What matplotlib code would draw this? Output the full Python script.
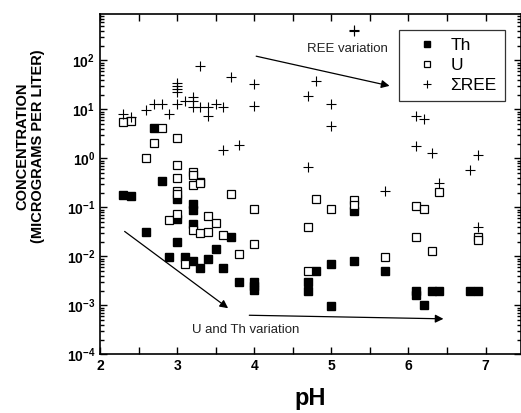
"""Th, U and total REE concentration versus pH (log scale)."""
import numpy as np
import matplotlib; matplotlib.use("Agg")
import matplotlib.pyplot as plt
from matplotlib.ticker import FixedLocator, LogLocator, FuncFormatter, NullFormatter

plt.rcParams["font.family"] = ["Liberation Sans", "DejaVu Sans"]
plt.rcParams["mathtext.fontset"] = "custom"
plt.rcParams["mathtext.rm"] = "Liberation Sans"
plt.rcParams["mathtext.bf"] = "Liberation Sans:bold"

# Th (filled squares)
th_ph = [2.3, 2.4, 2.6, 2.7, 2.8, 2.9, 3.0, 3.0, 3.0, 3.1, 3.2, 3.2, 3.2, 3.2, 3.3, 3.3,
         3.4, 3.5, 3.6, 3.7, 3.8, 4.0, 4.0, 4.0, 4.7, 4.7, 4.8, 5.0, 5.0, 5.3, 5.3, 5.7,
         6.1, 6.1, 6.2, 6.3, 6.4, 6.8, 6.9]
th_c = [0.18, 0.17, 0.031, 4.2, 0.35, 0.0099, 0.15, 0.057, 0.020, 0.0099, 0.12, 0.089,
        0.045, 0.0079, 0.33, 0.0059, 0.0087, 0.014, 0.0059, 0.025, 0.0030, 0.0030, 0.0025,
        0.0021, 0.0030, 0.0020, 0.005, 0.0069, 0.00098, 0.085, 0.0079, 0.005, 0.002,
        0.0016, 0.001, 0.002, 0.002, 0.002, 0.002]

# U (open squares)
u_ph = [2.3, 2.4, 2.6, 2.7, 2.8, 2.9, 3.0, 3.0, 3.0, 3.0, 3.0, 3.0, 3.1, 3.2, 3.2, 3.2,
        3.2, 3.3, 3.3, 3.4, 3.4, 3.5, 3.6, 3.7, 3.8, 4.0, 4.0, 4.7, 4.7, 4.8, 5.0, 5.3,
        5.3, 5.7, 6.1, 6.1, 6.2, 6.3, 6.4, 6.9, 6.9]
u_c = [5.5, 5.8, 1.0, 2.1, 4.2, 0.055, 2.6, 0.75, 0.39, 0.22, 0.19, 0.075, 0.0069, 0.53,
       0.45, 0.29, 0.035, 0.31, 0.030, 0.067, 0.031, 0.049, 0.028, 0.19, 0.011, 0.091,
       0.018, 0.04, 0.005, 0.15, 0.095, 0.14, 0.11, 0.0099, 0.106, 0.025, 0.095, 0.013,
       0.21, 0.025, 0.022]

# sum of REE (plus signs)
ree_ph = [2.3, 2.4, 2.6, 2.7, 2.8, 2.9, 3.0, 3.0, 3.0, 3.0, 3.0, 3.1, 3.2, 3.2, 3.2, 3.3,
          3.3, 3.4, 3.4, 3.5, 3.6, 3.6, 3.7, 3.8, 4.0, 4.0, 4.7, 4.7, 4.8, 5.0, 5.0, 5.3,
          5.3, 5.7, 6.1, 6.1, 6.2, 6.3, 6.4, 6.8, 6.9, 6.9]
ree_c = [8.0, 6.9, 9.6, 13, 13, 8.0, 34, 30, 26, 23, 13, 15, 18, 15, 11, 76, 11, 11, 7.3,
         13, 11, 1.5, 45, 1.9, 33, 11.6, 19, 0.67, 38, 13, 4.6, 400, 420, 0.22, 7.3, 1.8,
         6.3, 1.3, 0.31, 0.58, 1.17, 0.04]

fig = plt.figure(figsize=(5.21, 4.13), dpi=100)
ax = fig.add_axes([0.192, 0.142, 0.808, 0.823])

ax.plot(th_ph, th_c, ls="none", marker="s", ms=5.2, mfc="black", mec="black", label="Th")
ax.plot(u_ph, u_c, ls="none", marker="s", ms=5.2, mfc="white", mec="black", mew=0.9, label="U")
ax.plot(ree_ph, ree_c, ls="none", marker="+", ms=7, mec="black", mew=0.8, label="\u03a3REE")

ax.set_yscale("log")
ax.set_xlim(2, 7.46)
ax.set_ylim(1e-4, 10 ** 2.94)

ax.xaxis.set_major_locator(FixedLocator(np.arange(2, 7.01, 0.5)))
ax.xaxis.set_major_formatter(FuncFormatter(
    lambda v, p: f"{int(v)}" if abs(v - round(v)) < 1e-6 else ""))
ax.yaxis.set_major_locator(FixedLocator([10.0 ** k for k in range(-4, 3)]))
ax.yaxis.set_major_formatter(FuncFormatter(
    lambda v, p: r"$\mathbf{10^{%d}}$" % round(np.log10(v))))
ax.yaxis.set_minor_locator(LogLocator(base=10, subs=np.arange(2, 10), numticks=20))
ax.yaxis.set_minor_formatter(NullFormatter())
ax.tick_params(which="both", direction="in", top=True, right=True, width=1.0)
ax.tick_params(which="major", length=5, labelsize=10)
ax.tick_params(which="minor", length=3)
for lab in ax.get_xticklabels():
    lab.set_fontweight("bold")
for s in ax.spines.values():
    s.set_linewidth(1.2)

ax.set_xlabel("pH", fontsize=17, fontweight="bold", labelpad=10)
fig.text(0.058, 0.647, "CONCENTRATION\n(MICROGRAMS PER LITER)", fontsize=10.5,
         fontweight="bold", rotation=90, ha="center", va="center", linespacing=1.15)

arrow = dict(arrowstyle="-|>", color="black", lw=0.9, mutation_scale=12)
ax.annotate("", xy=(5.79, 29.5), xytext=(3.99, 126), arrowprops=arrow)
ax.text(5.21, 175, "REE variation", fontsize=9.5, ha="center", va="center", color="#222222")
ax.annotate("", xy=(3.69, 8.1e-4), xytext=(2.29, 0.035), arrowprops=arrow)
ax.annotate("", xy=(6.49, 5.3e-4), xytext=(3.9, 6.3e-4), arrowprops=arrow)
ax.text(3.89, 3.1e-4, "U and Th variation", fontsize=9.5, ha="center", va="center",
        color="#222222")

leg = ax.legend(loc="upper right", bbox_to_anchor=(0.961, 0.955), fontsize=12.5,
                frameon=True, fancybox=False, edgecolor="black", handlelength=2.3,
                handletextpad=0.2, borderpad=0.45, labelspacing=0.3, borderaxespad=0,
                markerscale=0.8)
leg.get_frame().set_linewidth(0.9)

fig.savefig("out.png", dpi=100)
